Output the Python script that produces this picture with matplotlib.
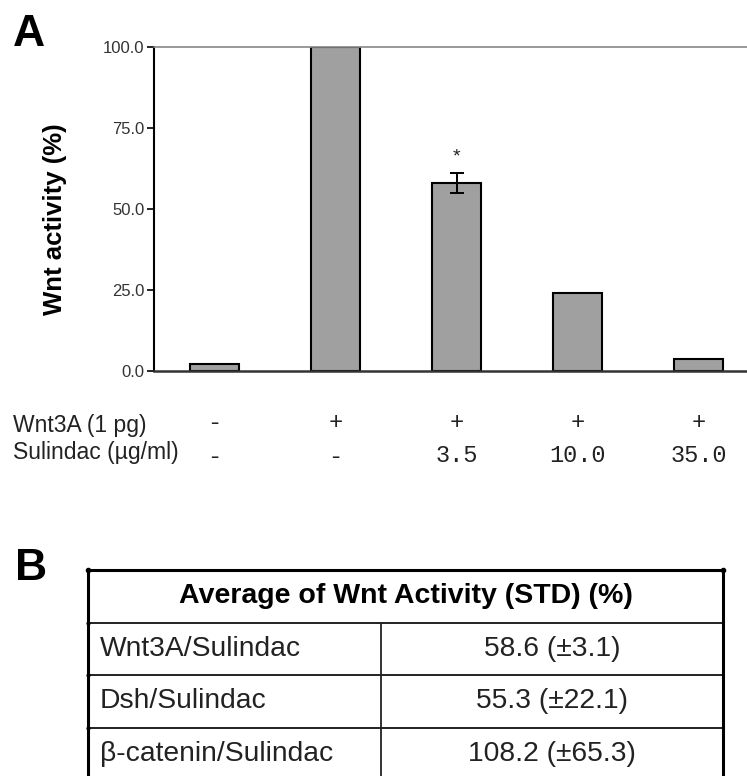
import numpy as np
import matplotlib.pyplot as plt
import matplotlib.transforms as mtransforms
plt.switch_backend("agg")

plt.rcParams['font.family'] = ['Liberation Sans', 'DejaVu Sans']

# bar chart data
bar_values = [2.1, 100.0, 58.1, 24.2, 3.6]
bar_errors = [0.0, 0.0, 3.1, 0.0, 0.0]
star_bars = [2]
y_ticks = [0, 25, 50, 75, 100]
wnt3a_row = ["-", "+", "+", "+", "+"]
sulindac_row = ["-", "-", "3.5", "10.0", "35.0"]

# table data
table_header = "Average of Wnt Activity (STD) (%)"
table_names = ["Wnt3A/Sulindac", "Dsh/Sulindac", "\u03b2-catenin/Sulindac"]
table_means = [58.6, 55.3, 108.2]
table_stds = [3.1, 22.1, 65.3]

W, H = 747, 776
fig = plt.figure(figsize=(W / 100, H / 100), dpi=100)


def fx(px):
    return px / W


def fy(py):
    return 1 - py / H


# ---- panel A ----
ax = fig.add_axes([fx(154), fy(371), fx(747 - 154), (371 - 47) / H])
x = np.arange(len(bar_values))
ax.bar(x, bar_values, width=0.4, color="#a0a0a0", edgecolor="black",
       linewidth=1.5, zorder=2)
for i, (v, e) in enumerate(zip(bar_values, bar_errors)):
    if e > 0:
        ax.errorbar(i, v, yerr=e, fmt="none", ecolor="black", elinewidth=1.4,
                    capsize=5, capthick=1.4, zorder=3)
for i in star_bars:
    ax.text(i, bar_values[i] + bar_errors[i] + 5, "*", ha="center",
            va="center", fontsize=14, color="#222222")

ax.set_xlim(-0.5, 4.4)
ax.set_ylim(0, 100)
ax.set_yticks(y_ticks)
ax.set_yticklabels(["%.1f" % t for t in y_ticks])
ax.set_xticks([])
ax.tick_params(axis="y", direction="out", length=5, width=1.2,
               labelsize=12, labelcolor="#333333", pad=2)
ax.spines["right"].set_visible(False)
ax.spines["top"].set_color("#888888")
ax.spines["top"].set_linewidth(1.2)
ax.spines["left"].set_linewidth(1.5)
ax.spines["bottom"].set_linewidth(1.8)
ax.spines["bottom"].set_color("#333333")
ax.set_ylabel("Wnt activity (%)", fontsize=18.5, fontweight="bold")
ax.yaxis.set_label_coords(-0.147, 0.47)

fig.text(fx(13), fy(34), "A", fontsize=32, fontweight="bold",
         ha="left", va="center")

# treatment rows under the bars
trans = mtransforms.blended_transform_factory(ax.transData, fig.transFigure)
fig.text(fx(13), fy(425), "Wnt3A (1 pg)", fontsize=16.5, color="#222222",
         ha="left", va="center")
fig.text(fx(13), fy(452), "Sulindac (\u00b5g/ml)", fontsize=16.5,
         color="#222222", ha="left", va="center")
for i, s in enumerate(wnt3a_row):
    ax.text(i, fy(423), s, transform=trans, ha="center", va="center",
            fontsize=17, family="Liberation Mono", color="#222222")
for i, s in enumerate(sulindac_row):
    ax.text(i, fy(456), s, transform=trans, ha="center", va="center",
            fontsize=17, family="Liberation Mono", color="#222222")

# ---- panel B ----
fig.text(fx(15), fy(569), "B", fontsize=32, fontweight="bold",
         ha="left", va="center")

tx = fig.add_axes([fx(88), fy(780), fx(723 - 88), (780 - 570) / H])
tx.set_xlim(0, 1)
tx.set_ylim(len(table_names) + 1, 0)
tx.axis("off")
split = (381 - 88) / (723 - 88)
n_rows = len(table_names) + 1

tx.hlines(0, 0, 1, color="black", linewidth=2.2, clip_on=False)
tx.hlines(np.arange(1, n_rows), 0, 1, color="#222222", linewidth=1.4,
          clip_on=False)
tx.vlines([0, 1], 0, n_rows, color="black", linewidth=2.2, clip_on=False)
tx.vlines(split, 1, n_rows, color="#222222", linewidth=1.3, clip_on=False)
tx.plot([0, 1], [0, 0], "o", color="black", markersize=3, clip_on=False)
tx.plot(np.zeros(n_rows - 1), np.arange(1, n_rows), "o", color="black",
        markersize=2, clip_on=False)

tx.text(0.5, 0.5, table_header, ha="center", va="center", fontsize=20.5,
        fontweight="bold")
for r, (name, m, s) in enumerate(zip(table_names, table_means, table_stds)):
    tx.text(12 / 635, r + 1.5, name, ha="left", va="center", fontsize=20.3,
            color="#222222")
    tx.text((split + 1) / 2, r + 1.5, "%.1f (\u00b1%.1f)" % (m, s),
            ha="center", va="center", fontsize=20.3, color="#222222")

fig.savefig("out.png", dpi=100)
plt.close(fig)
